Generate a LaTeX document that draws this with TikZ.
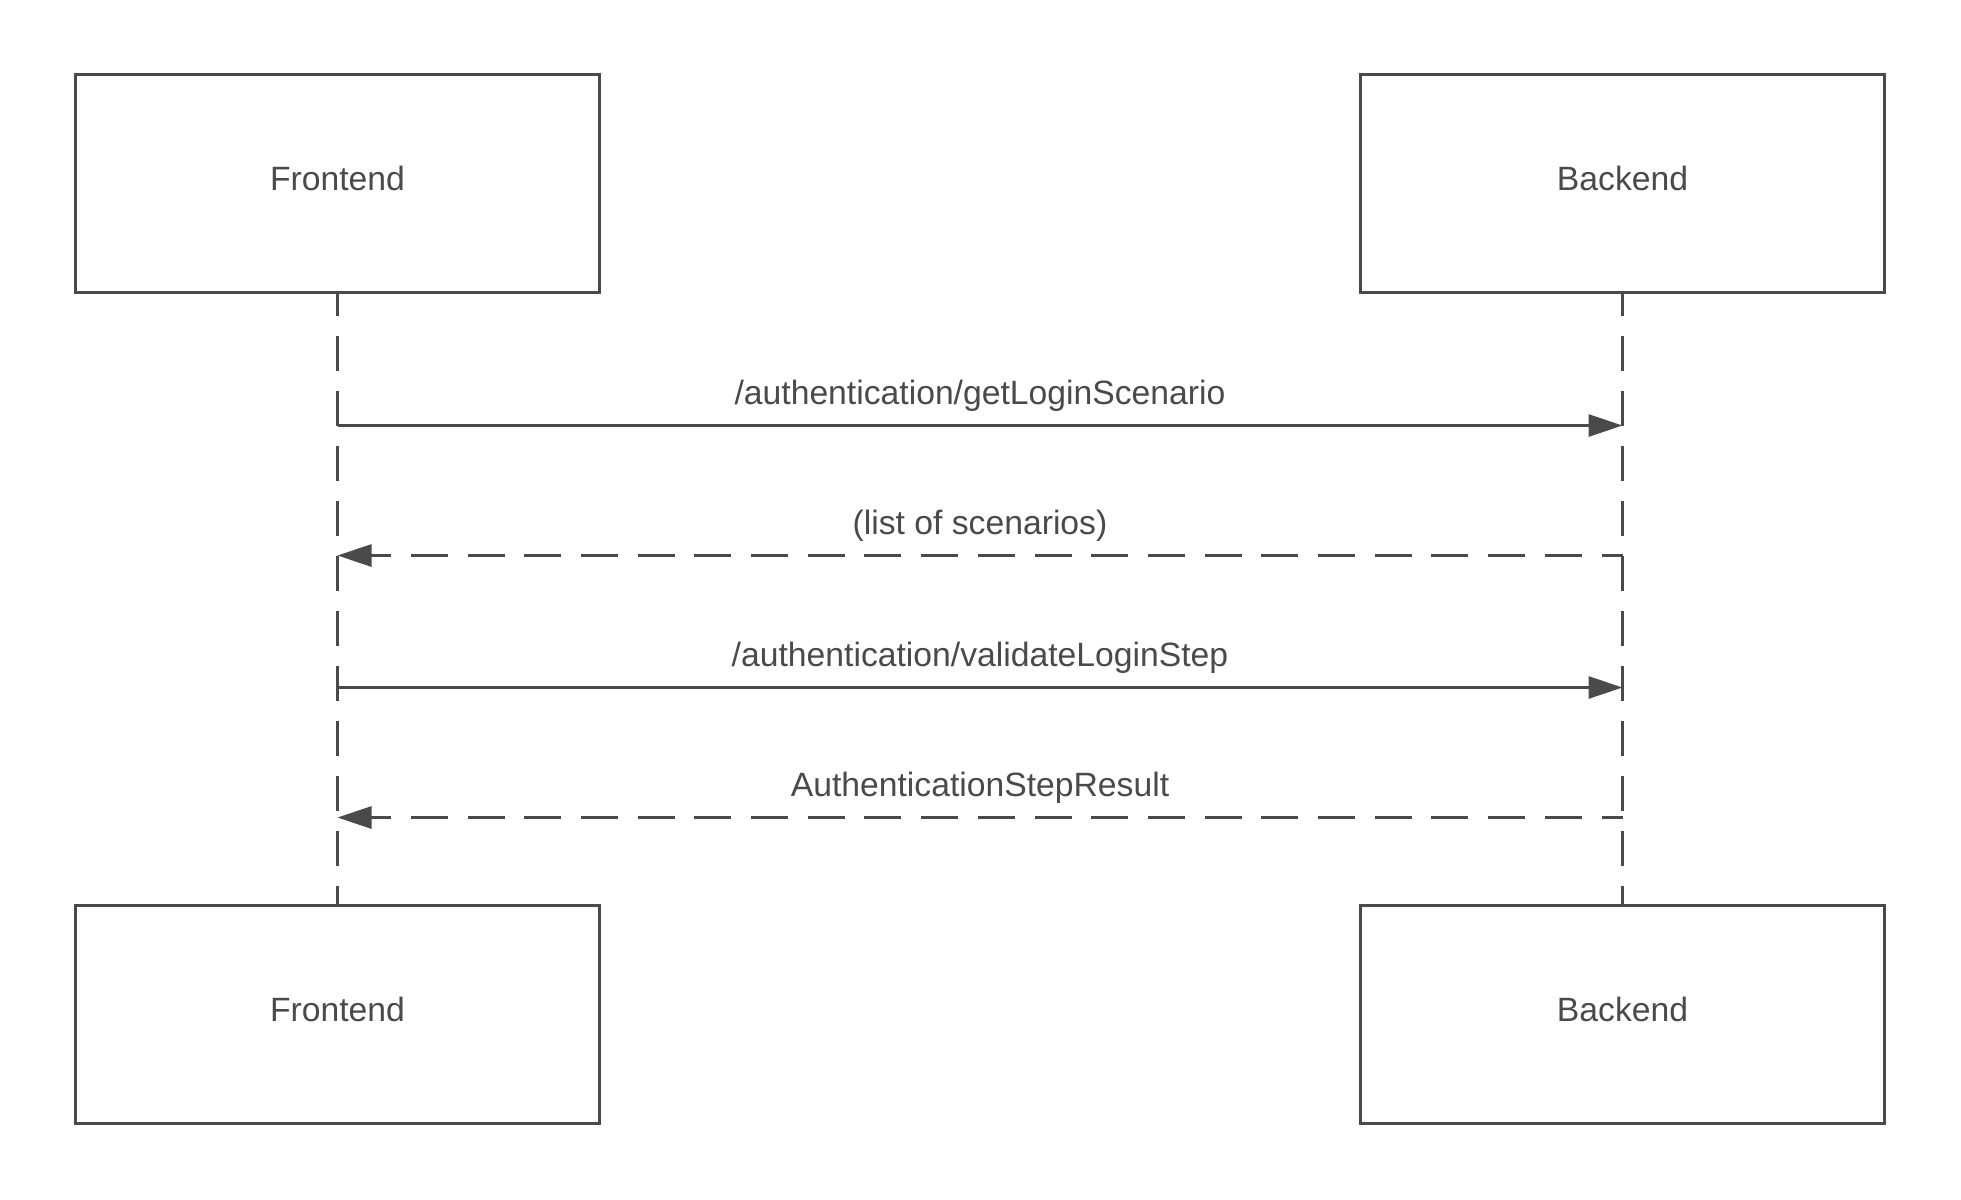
\documentclass[tikz,border=0pt]{standalone}
\usepackage{fontspec}
\setmainfont{Liberation Sans}
\usetikzlibrary{arrows.meta}
\definecolor{ink}{HTML}{4A4A4A}
\begin{document}
\begin{tikzpicture}[x=0.5pt,y=-0.5pt,
  font=\fontsize{16.85pt}{20pt}\selectfont,
  actor/.style={draw=ink, line width=1.5pt, minimum width=262pt, minimum height=109pt,
    inner sep=0pt, text=ink, text height=12pt, text depth=5pt},
  lifeline/.style={draw=ink, line width=1.5pt, dash pattern=on 17.5pt off 10pt, dash phase=6.5pt},
  msg/.style={draw=ink, line width=1.5pt, -{Triangle[length=17pt,width=11pt]}},
  reply/.style={msg, dash pattern=on 18.5pt off 9.85pt, dash phase=8pt},
  lbl/.style={text=ink, anchor=base, yshift=10.5pt, inner sep=0pt}
]
\fill[white] (0,0) rectangle (1961,1200);
\useasboundingbox (0,0) rectangle (1961,1200);

\node[actor] (ftop) at (337.5,183.5) {Frontend};
\node[actor] (btop) at (1622.5,183.5) {Backend};
\node[actor] (fbot) at (337.5,1014.5) {Frontend};
\node[actor] (bbot) at (1622.5,1014.5) {Backend};

\draw[lifeline] (ftop.south) -- (fbot.north);
\draw[lifeline] (btop.south) -- (bbot.north);

\coordinate (f1) at (337.5,425.5);  \coordinate (b1) at (1622.5,425.5);
\coordinate (f2) at (337.5,555.5);  \coordinate (b2) at (1622.5,555.5);
\coordinate (f3) at (337.5,687.5);  \coordinate (b3) at (1622.5,687.5);
\coordinate (f4) at (337.5,817.5);  \coordinate (b4) at (1622.5,817.5);

\draw[msg] (f1) -- (b1) node[lbl, midway] (t1) {/authentication/getLoginScenario};
\draw[reply] (b2) -- (f2) node[lbl, midway] (t2) {(list of scenarios)};
\draw[msg] (f3) -- (b3) node[lbl, midway] (t3) {/authentication/validateLoginStep};
\draw[reply] (b4) -- (f4) node[lbl, midway] (t4) {AuthenticationStepResult};
\end{tikzpicture}
\end{document}
